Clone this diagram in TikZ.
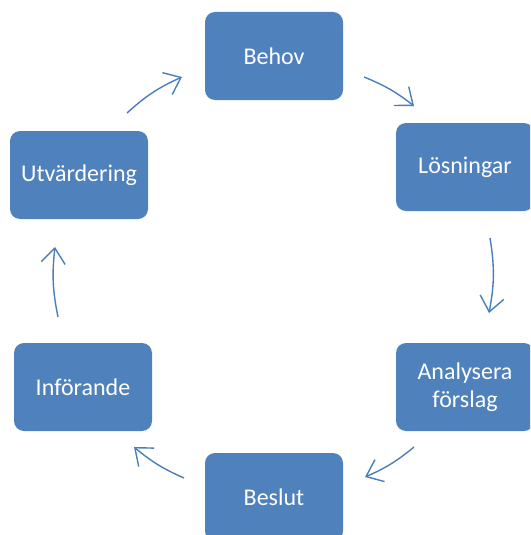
\documentclass[tikz,border=0pt]{standalone}
\usepackage{fontspec}
\setmainfont{Carlito}
\usetikzlibrary{arrows.meta}
\definecolor{boxblue}{HTML}{4F81BD}
\definecolor{arrowblue}{HTML}{4A7EBB}

\begin{document}
\begin{tikzpicture}[x=1pt, y=1pt]
    \tikzset{step box/.style={rectangle, rounded corners=10pt, fill=boxblue, text=white, minimum width=138pt, minimum height=88pt, align=center, inner sep=2pt, font=\fontsize{24}{28}\selectfont}}
    \tikzset{cycle arrow/.style={draw=arrowblue, line width=1.4pt, -{Straight Barb[length=15pt,width=24pt]}}}
    \useasboundingbox (0,0) rectangle (530,-535);
    \clip (0,0) rectangle (530,-535);
    % Nodes
    \node (behov) [step box] at (274,-56) {Behov};
    \node (losningar) [step box] at (465,-167) {Lösningar};
    \node (analysera) [step box] at (465,-387) {Analysera\\förslag};
    \node (beslut) [step box] at (274,-497) {Beslut};
    \node (inforande) [step box] at (83,-387) {Införande};
    \node (utvardering) [step box] at (79,-175) {Utvärdering};

    % Arrow ends
    \coordinate (a1s) at (127,-113);
    \coordinate (a1e) at (182,-77);
    \coordinate (a2s) at (364,-77);
    \coordinate (a2e) at (414,-106);
    \coordinate (a3s) at (490,-238);
    \coordinate (a3e) at (489,-313);
    \coordinate (a4s) at (414,-447);
    \coordinate (a4e) at (365,-477);
    \coordinate (a5s) at (184,-478);
    \coordinate (a5e) at (134,-447);
    \coordinate (a6s) at (58,-317);
    \coordinate (a6e) at (55,-247);

    % Arrows
    \draw [cycle arrow, bend left=9] (a1s) to (a1e);
    \draw [cycle arrow, bend left=8] (a2s) to (a2e);
    \draw [cycle arrow, bend left=10] (a3s) to (a3e);
    \draw [cycle arrow, bend left=8] (a4s) to (a4e);
    \draw [cycle arrow, bend left=8] (a5s) to (a5e);
    \draw [cycle arrow, bend left=9] (a6s) to (a6e);
\end{tikzpicture}
\end{document}
